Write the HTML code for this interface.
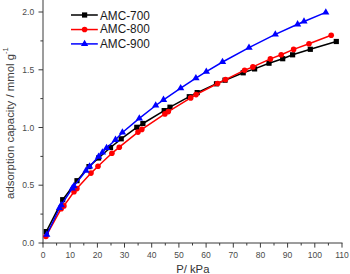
<!DOCTYPE html>
<html><head><meta charset="utf-8"><title>CO2 adsorption isotherms</title>
<style>
html,body{margin:0;padding:0;background:#fff;}
body{width:350px;height:274px;overflow:hidden;font-family:"Liberation Sans",sans-serif;}
svg{display:block;}
text{font-family:"Liberation Sans",sans-serif;}
</style></head><body>
<svg width="350" height="274" viewBox="0 0 350 274">
<rect width="350" height="274" fill="#fff"/>

<g stroke="#3a3a3a" stroke-width="1" fill="none">
<line x1="43.0" y1="0" x2="43.0" y2="243.5"/>
<line x1="42.5" y1="243.0" x2="342.5" y2="243.0"/>
<line x1="38.5" y1="243.0" x2="43.0" y2="243.0"/>
<line x1="40.4" y1="214.1" x2="43.0" y2="214.1"/>
<line x1="38.5" y1="185.2" x2="43.0" y2="185.2"/>
<line x1="40.4" y1="156.4" x2="43.0" y2="156.4"/>
<line x1="38.5" y1="127.5" x2="43.0" y2="127.5"/>
<line x1="40.4" y1="98.6" x2="43.0" y2="98.6"/>
<line x1="38.5" y1="69.8" x2="43.0" y2="69.8"/>
<line x1="40.4" y1="40.9" x2="43.0" y2="40.9"/>
<line x1="38.5" y1="12.0" x2="43.0" y2="12.0"/>
<line x1="43.0" y1="243.0" x2="43.0" y2="247.6"/>
<line x1="56.6" y1="243.0" x2="56.6" y2="245.5"/>
<line x1="70.2" y1="243.0" x2="70.2" y2="247.6"/>
<line x1="83.8" y1="243.0" x2="83.8" y2="245.5"/>
<line x1="97.4" y1="243.0" x2="97.4" y2="247.6"/>
<line x1="111.0" y1="243.0" x2="111.0" y2="245.5"/>
<line x1="124.5" y1="243.0" x2="124.5" y2="247.6"/>
<line x1="138.1" y1="243.0" x2="138.1" y2="245.5"/>
<line x1="151.7" y1="243.0" x2="151.7" y2="247.6"/>
<line x1="165.3" y1="243.0" x2="165.3" y2="245.5"/>
<line x1="178.9" y1="243.0" x2="178.9" y2="247.6"/>
<line x1="192.5" y1="243.0" x2="192.5" y2="245.5"/>
<line x1="206.1" y1="243.0" x2="206.1" y2="247.6"/>
<line x1="219.7" y1="243.0" x2="219.7" y2="245.5"/>
<line x1="233.3" y1="243.0" x2="233.3" y2="247.6"/>
<line x1="246.8" y1="243.0" x2="246.8" y2="245.5"/>
<line x1="260.4" y1="243.0" x2="260.4" y2="247.6"/>
<line x1="274.0" y1="243.0" x2="274.0" y2="245.5"/>
<line x1="287.6" y1="243.0" x2="287.6" y2="247.6"/>
<line x1="301.2" y1="243.0" x2="301.2" y2="245.5"/>
<line x1="314.8" y1="243.0" x2="314.8" y2="247.6"/>
<line x1="328.4" y1="243.0" x2="328.4" y2="245.5"/>
<line x1="342.0" y1="243.0" x2="342.0" y2="247.6"/>
</g>
<g font-size="9.5" fill="#4a4a4a">
<text transform="translate(34.2,246.1) scale(0.9,1)" text-anchor="end">0.0</text>
<text transform="translate(34.2,188.3) scale(0.9,1)" text-anchor="end">0.5</text>
<text transform="translate(34.2,130.6) scale(0.9,1)" text-anchor="end">1.0</text>
<text transform="translate(34.2,72.8) scale(0.9,1)" text-anchor="end">1.5</text>
<text transform="translate(34.2,15.1) scale(0.9,1)" text-anchor="end">2.0</text>
<text transform="translate(43.0,258.2) scale(0.9,1)" text-anchor="middle">0</text>
<text transform="translate(70.2,258.2) scale(0.9,1)" text-anchor="middle">10</text>
<text transform="translate(97.4,258.2) scale(0.9,1)" text-anchor="middle">20</text>
<text transform="translate(124.5,258.2) scale(0.9,1)" text-anchor="middle">30</text>
<text transform="translate(151.7,258.2) scale(0.9,1)" text-anchor="middle">40</text>
<text transform="translate(178.9,258.2) scale(0.9,1)" text-anchor="middle">50</text>
<text transform="translate(206.1,258.2) scale(0.9,1)" text-anchor="middle">60</text>
<text transform="translate(233.3,258.2) scale(0.9,1)" text-anchor="middle">70</text>
<text transform="translate(260.4,258.2) scale(0.9,1)" text-anchor="middle">80</text>
<text transform="translate(287.6,258.2) scale(0.9,1)" text-anchor="middle">90</text>
<text transform="translate(314.8,258.2) scale(0.9,1)" text-anchor="middle">100</text>
<text transform="translate(342.0,258.2) scale(0.9,1)" text-anchor="middle">110</text>
</g>
<text transform="translate(176.2,272.7) scale(1.027,1)" font-size="11" fill="#333">P/ kPa</text>
<text transform="translate(14.0,198.9) rotate(-90)" font-size="11.4" fill="#404040">adsorption capacity / mmol g<tspan font-size="7.6" dy="-5.6">-1</tspan></text>
<polyline points="46.3,231.6 62.7,199.7 77.0,180.7 89.0,166.6 98.6,158.0 110.5,147.5 121.2,138.8 136.8,127.3 142.9,123.5 164.2,110.6 170.0,107.2 189.3,96.7 197.2,92.6 216.5,83.8 225.0,80.2 243.2,72.8 254.6,68.9 269.0,63.2 282.7,58.7 292.6,54.8 310.3,49.3 336.3,41.5" fill="none" stroke="#000" stroke-width="1.5" stroke-linejoin="round"/>
<g fill="#000"><rect x="43.7" y="229.0" width="5.2" height="5.2"/><rect x="60.1" y="197.1" width="5.2" height="5.2"/><rect x="74.4" y="178.1" width="5.2" height="5.2"/><rect x="86.4" y="164.0" width="5.2" height="5.2"/><rect x="96.0" y="155.4" width="5.2" height="5.2"/><rect x="107.9" y="144.9" width="5.2" height="5.2"/><rect x="118.6" y="136.2" width="5.2" height="5.2"/><rect x="134.2" y="124.7" width="5.2" height="5.2"/><rect x="140.3" y="120.9" width="5.2" height="5.2"/><rect x="161.6" y="108.0" width="5.2" height="5.2"/><rect x="167.4" y="104.6" width="5.2" height="5.2"/><rect x="186.7" y="94.1" width="5.2" height="5.2"/><rect x="194.6" y="90.0" width="5.2" height="5.2"/><rect x="213.9" y="81.2" width="5.2" height="5.2"/><rect x="222.4" y="77.6" width="5.2" height="5.2"/><rect x="240.6" y="70.2" width="5.2" height="5.2"/><rect x="252.0" y="66.3" width="5.2" height="5.2"/><rect x="266.4" y="60.6" width="5.2" height="5.2"/><rect x="280.1" y="56.1" width="5.2" height="5.2"/><rect x="290.0" y="52.2" width="5.2" height="5.2"/><rect x="307.7" y="46.7" width="5.2" height="5.2"/><rect x="333.7" y="38.9" width="5.2" height="5.2"/></g>
<polyline points="45.9,236.5 61.2,208.7 63.9,205.9 74.0,191.7 76.9,188.6 91.0,173.1 98.0,166.2 111.9,153.3 119.3,147.2 138.0,132.1 141.8,129.4 164.9,113.9 168.3,111.6 190.7,97.9 196.1,94.6 217.6,83.5 225.5,79.6 244.6,70.2 252.9,66.9 270.4,58.9 281.2,54.7 293.6,49.4 309.0,43.7 331.2,35.3" fill="none" stroke="#f00" stroke-width="1.5" stroke-linejoin="round"/>
<g fill="#f00"><circle cx="45.9" cy="236.5" r="2.8"/><circle cx="61.2" cy="208.7" r="2.8"/><circle cx="63.9" cy="205.9" r="2.8"/><circle cx="74.0" cy="191.7" r="2.8"/><circle cx="76.9" cy="188.6" r="2.8"/><circle cx="91.0" cy="173.1" r="2.8"/><circle cx="98.0" cy="166.2" r="2.8"/><circle cx="111.9" cy="153.3" r="2.8"/><circle cx="119.3" cy="147.2" r="2.8"/><circle cx="138.0" cy="132.1" r="2.8"/><circle cx="141.8" cy="129.4" r="2.8"/><circle cx="164.9" cy="113.9" r="2.8"/><circle cx="168.3" cy="111.6" r="2.8"/><circle cx="190.7" cy="97.9" r="2.8"/><circle cx="196.1" cy="94.6" r="2.8"/><circle cx="217.6" cy="83.5" r="2.8"/><circle cx="225.5" cy="79.6" r="2.8"/><circle cx="244.6" cy="70.2" r="2.8"/><circle cx="252.9" cy="66.9" r="2.8"/><circle cx="270.4" cy="58.9" r="2.8"/><circle cx="281.2" cy="54.7" r="2.8"/><circle cx="293.6" cy="49.4" r="2.8"/><circle cx="309.0" cy="43.7" r="2.8"/><circle cx="331.2" cy="35.3" r="2.8"/></g>
<polyline points="46.8,234.7 59.5,208.0 61.2,205.1 72.3,188.3 73.9,186.1 86.0,170.7 89.6,166.5 98.6,156.6 102.4,152.4 106.6,148.0 115.5,139.8 122.4,132.5 139.3,118.4 155.7,105.5 163.5,99.8 180.7,88.2 195.9,78.2 206.3,71.6 222.5,62.0 249.0,47.7 275.3,34.4 297.6,24.3 304.0,21.5 325.8,12.4" fill="none" stroke="#00f" stroke-width="1.5" stroke-linejoin="round"/>
<g fill="#00f"><path d="M43.1,236.8 L50.4,236.8 L46.8,230.5 Z"/><path d="M55.9,210.1 L63.1,210.1 L59.5,203.8 Z"/><path d="M57.6,207.2 L64.9,207.2 L61.2,200.9 Z"/><path d="M68.6,190.4 L76.0,190.4 L72.3,184.1 Z"/><path d="M70.2,188.2 L77.6,188.2 L73.9,181.9 Z"/><path d="M82.3,172.8 L89.7,172.8 L86.0,166.5 Z"/><path d="M85.9,168.6 L93.2,168.6 L89.6,162.3 Z"/><path d="M94.9,158.7 L102.2,158.7 L98.6,152.4 Z"/><path d="M98.8,154.5 L106.1,154.5 L102.4,148.2 Z"/><path d="M102.9,150.1 L110.2,150.1 L106.6,143.8 Z"/><path d="M111.8,141.9 L119.2,141.9 L115.5,135.6 Z"/><path d="M118.8,134.6 L126.1,134.6 L122.4,128.3 Z"/><path d="M135.7,120.5 L143.0,120.5 L139.3,114.2 Z"/><path d="M152.0,107.6 L159.3,107.6 L155.7,101.3 Z"/><path d="M159.8,101.9 L167.2,101.9 L163.5,95.6 Z"/><path d="M177.0,90.3 L184.3,90.3 L180.7,84.0 Z"/><path d="M192.2,80.3 L199.6,80.3 L195.9,74.0 Z"/><path d="M202.7,73.7 L210.0,73.7 L206.3,67.4 Z"/><path d="M218.8,64.1 L226.2,64.1 L222.5,57.8 Z"/><path d="M245.3,49.8 L252.7,49.8 L249.0,43.5 Z"/><path d="M271.7,36.5 L278.9,36.5 L275.3,30.2 Z"/><path d="M294.0,26.4 L301.2,26.4 L297.6,20.1 Z"/><path d="M300.4,23.6 L307.6,23.6 L304.0,17.3 Z"/><path d="M322.2,14.5 L329.4,14.5 L325.8,8.2 Z"/></g>
<line x1="71" y1="15" x2="97.8" y2="15" stroke="#000" stroke-width="1.5"/>
<g fill="#000"><rect x="82.0" y="12.4" width="5.2" height="5.2"/></g>
<text transform="translate(100,19.6) scale(0.966,1)" font-size="12.2" fill="#1a1a1a">AMC-700</text>
<line x1="71" y1="29.55" x2="97.8" y2="29.55" stroke="#f00" stroke-width="1.5"/>
<g fill="#f00"><circle cx="84.6" cy="29.55" r="2.8"/></g>
<text transform="translate(100,33.3) scale(0.966,1)" font-size="12.2" fill="#1a1a1a">AMC-800</text>
<line x1="71" y1="43.9" x2="97.8" y2="43.9" stroke="#00f" stroke-width="1.5"/>
<g fill="#00f"><path d="M80.9,46.0 L88.2,46.0 L84.6,39.7 Z"/></g>
<text transform="translate(100,48.0) scale(0.966,1)" font-size="12.2" fill="#1a1a1a">AMC-900</text>
</svg></body></html>
